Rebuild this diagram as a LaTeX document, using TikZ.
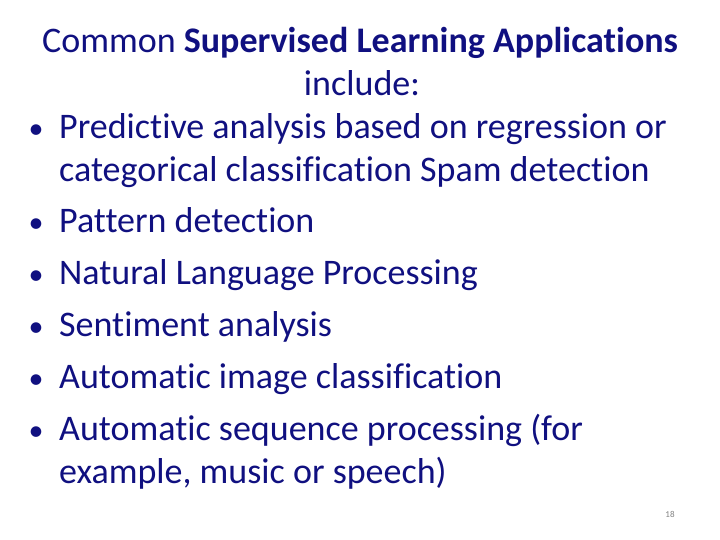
\documentclass[tikz,border=0pt]{standalone}
\usepackage{fontspec}
\setmainfont{Carlito}[Ligatures=NoCommon]
\definecolor{navy}{RGB}{16,16,128}
\begin{document}
\begin{tikzpicture}[x=1pt,y=1pt,
  txt/.style={anchor=base west,inner sep=0pt,text=navy,font=\fontsize{36}{40}\selectfont},
  bul/.style={anchor=base,inner sep=0pt,text=navy,font=\fontsize{30}{34}\selectfont}]
\useasboundingbox (0,0) rectangle (720,540);
\node[txt,anchor=base] (t1) at (360,487) {Common \textbf{Supervised Learning Applications}};
\node[txt,anchor=base] (t2) at (362,444) {include:};
\foreach \n/\y/\s in {a/401/{Predictive analysis based on regression or},
  c/307/{Pattern detection},d/255/{Natural Language Processing},
  e/203/{Sentiment analysis},f/151/{Automatic image classification},
  g/99/{Automatic sequence processing (for}}{
  \node[bul] (b\n) at (36,\y) {•};
  \node[txt] (\n) at (59,\y) {\s};
}
\node[txt] (a2) at (59,358) {categorical classification Spam detection};
\node[txt] (g2) at (59,56) {example, music or speech)};
\node[anchor=base,inner sep=0pt,text=gray,font=\fontsize{9}{10}\selectfont] (pg) at (670,22) {18};
\end{tikzpicture}
\end{document}
